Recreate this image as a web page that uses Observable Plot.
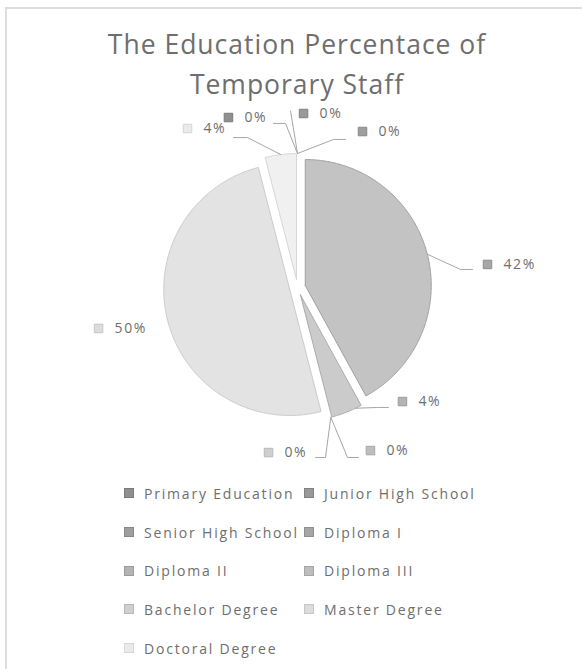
<!DOCTYPE html>
<html>
<head>
<meta charset="utf-8">
<script src="https://cdn.jsdelivr.net/npm/d3@7"></script>
<script src="https://cdn.jsdelivr.net/npm/@observablehq/plot@0.6"></script>
<style>
  html, body { margin: 0; padding: 0; background: #fff; overflow: hidden; }
  #wrap { position: relative; width: 582px; height: 669px; overflow: hidden; font-family: "Open Sans", sans-serif; }
  .fr { position: absolute; background: #dddddd; }
  #title { position: absolute; left: 0; width: 594px; top: 24px; text-align: center;
           font-size: 26.5px; line-height: 40px; color: #6e6e6e; letter-spacing: 1px; }
  #chart { position: absolute; left: 0; top: 0; }
  #chart svg text { letter-spacing: 1.6px; }
  #legend { position: absolute; left: 124px; top: 474px; width: 420px;
            display: grid; grid-template-columns: 180px 200px; grid-auto-rows: 38.7px;
            font-size: 14px; color: #6e6e6e; letter-spacing: 1.8px; }
  .item { display: flex; align-items: center; white-space: nowrap; }
  .sw { width: 8px; height: 8px; margin-right: 10px; display: inline-block; box-sizing: content-box; }
</style>
</head>
<body>
<div id="wrap">
  <div class="fr" style="left:5px;top:7px;width:577px;height:2px"></div>
  <div class="fr" style="left:5px;top:7px;width:2px;height:662px"></div>
  <div id="title">The Education Percentace of<br>Temporary Staff</div>
  <div id="chart"></div>
  <div id="legend"></div>
</div>
<script>
// ---- data ----
const categories = ["Primary Education", "Junior High School", "Senior High School", "Diploma I",
                    "Diploma II", "Diploma III", "Bachelor Degree", "Master Degree", "Doctoral Degree"];
const percentages = [0, 0, 0, 42, 4, 0, 0, 50, 4];

// ---- styles ----
const sliceFill   = ["#aaaaaa", "#b2b2b2", "#bbbbbb", "#c3c3c3", "#cbcbcb", "#d3d3d3", "#dcdcdc", "#e3e3e3", "#f0f0f0"];
const sliceStroke = ["#8f8f8f", "#959595", "#9c9c9c", "#a0a0a0", "#acacac", "#b4b4b4", "#c4c4c4", "#cbcbcb", "#d6d6d6"];
const boxFill     = ["#8f8f8f", "#999999", "#9e9e9e", "#a6a6a6", "#b3b3b3", "#bdbdbd", "#cfcfcf", "#dcdcdc", "#eaeaea"];
const boxStroke   = ["#7a7a7a", "#828282", "#888888", "#8f8f8f", "#9c9c9c", "#a6a6a6", "#b8b8b8", "#c6c6c6", "#d6d6d6"];

// ---- layout (in pie-radius units, origin at pie centre, y up) ----
const explode = 0.0635;
const labelLayout = {
  "Primary Education":  {box: [-0.548, 1.349], path: [[-0.095, 1.302], [-0.190, 1.302]]},
  "Junior High School": {box: [0.048, 1.381],  path: [[-0.055, 1.400]]},
  "Senior High School": {box: [0.516, 1.238],  path: [[0.286, 1.175], [0.381, 1.175]]},
  "Diploma I":          {box: [1.508, 0.183],  path: [[1.294, 0.143], [1.389, 0.143]]},
  "Diploma II":         {box: [0.833, -0.905], path: [[0.635, -0.952], [0.722, -0.952]], at: 0.2},
  "Diploma III":        {box: [0.579, -1.294], path: [[0.397, -1.349], [0.484, -1.349]]},
  "Bachelor Degree":    {box: [-0.230, -1.310], path: [[0.222, -1.349], [0.143, -1.349]]},
  "Master Degree":      {box: [-1.579, -0.325], path: []},
  "Doctoral Degree":    {box: [-0.873, 1.262], path: [[-0.397, 1.190], [-0.508, 1.190]]}
};

const rows = categories.map((name, i) => ({name, value: percentages[i], i}));
const arcs = d3.pie().value(d => d.value).sort(null)(rows);

function apexOf(a) {
  const mid = (a.startAngle + a.endAngle) / 2;
  return [explode * Math.sin(mid), explode * Math.cos(mid)];
}

const sliceMarks = arcs.filter(a => a.data.value > 0).map(a => {
  const [ox, oy] = apexOf(a);
  const pts = [{x: ox, y: oy}];
  const n = Math.max(2, Math.ceil((a.endAngle - a.startAngle) / 0.01));
  for (let k = 0; k <= n; k++) {
    const t = a.startAngle + (a.endAngle - a.startAngle) * k / n;
    pts.push({x: ox + Math.sin(t), y: oy + Math.cos(t)});
  }
  pts.push({x: ox, y: oy});
  return Plot.line(pts, {x: "x", y: "y", fill: sliceFill[a.data.i], stroke: sliceStroke[a.data.i],
                         strokeWidth: 1, curve: "linear"});
});

const leaderPts = [];
arcs.forEach(a => {
  const L = labelLayout[a.data.name];
  if (!L.path.length) return;
  const [ox, oy] = apexOf(a);
  const f = L.at ?? 0.5;
  const t = a.startAngle + (a.endAngle - a.startAngle) * f;
  leaderPts.push({name: a.data.name, x: ox + Math.sin(t), y: oy + Math.cos(t)});
  L.path.forEach(p => leaderPts.push({name: a.data.name, x: p[0], y: p[1]}));
});

const labels = rows.map(r => ({
  ...r,
  bx: labelLayout[r.name].box[0],
  by: labelLayout[r.name].box[1],
  text: r.value + "%"
}));

const R = 126, cx = 297, cy = 287, W = 582, H = 669;
const chart = Plot.plot({
  width: W, height: H,
  marginLeft: cx - R, marginRight: W - (cx + R),
  marginTop: cy - R, marginBottom: H - (cy + R),
  x: {domain: [-1, 1], axis: null},
  y: {domain: [-1, 1], axis: null},
  style: {background: "transparent", overflow: "visible"},
  marks: [
    ...sliceMarks,
    Plot.line(leaderPts, {x: "x", y: "y", z: "name", stroke: "#a6a6a6", strokeWidth: 1, curve: "linear"}),
    Plot.dot(labels, {x: "bx", y: "by", symbol: "square", r: 4.8,
                      fill: d => boxFill[d.i], stroke: d => boxStroke[d.i], strokeWidth: 1}),
    Plot.text(labels, {x: "bx", y: "by", text: "text", dx: 16, textAnchor: "start",
                       fontSize: 14, fill: "#6e6e6e", fontFamily: "Open Sans"})
  ]
});
document.getElementById("chart").appendChild(chart);

// legend
const legend = document.getElementById("legend");
categories.forEach((c, i) => {
  const item = document.createElement("div");
  item.className = "item";
  const sw = document.createElement("span");
  sw.className = "sw";
  sw.style.background = boxFill[i];
  sw.style.border = "1px solid " + boxStroke[i];
  item.appendChild(sw);
  item.appendChild(document.createTextNode(c));
  legend.appendChild(item);
});
</script>
</body>
</html>
